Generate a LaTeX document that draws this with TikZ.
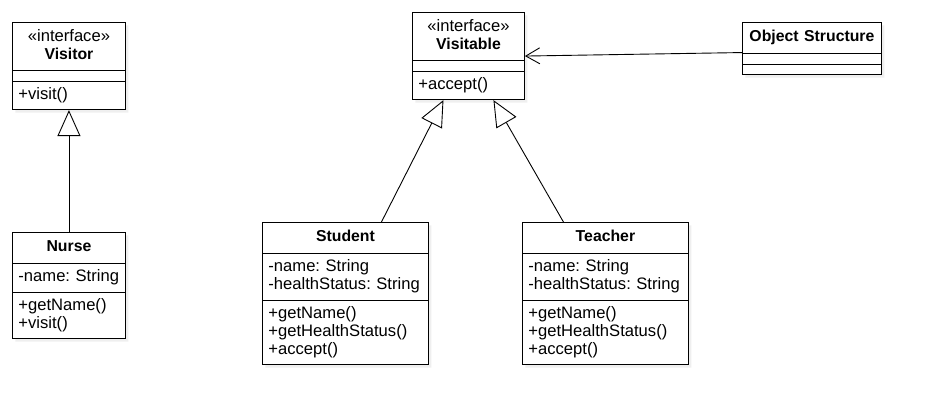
\documentclass[tikz,border=0pt]{standalone}
\usepackage{fontspec}
\setmainfont{Liberation Sans}
\usetikzlibrary{arrows.meta,shapes.multipart,shadows}
\tikzset{
  basic/.style   = {draw, line width=0.9pt, fill=white, rectangle split,
                    rectangle split parts=3, align=left, anchor=north west,
                    rectangle split empty part height=2.2pt,
                    rectangle split empty part depth=0pt,
                    inner xsep=6pt, inner ysep=4.75pt,
                    font=\fontsize{16.6}{18}\selectfont\frenchspacing,
                    drop shadow={shadow xshift=3pt, shadow yshift=-3pt,
                                 opacity=0.12}},
  class/.style   = {basic, text width=#1},
  generalization/.style = {draw, line width=0.9pt,
                    -{Triangle[open, fill=white, length=26pt, width=23pt]}},
  association/.style = {draw, line width=0.9pt,
                    -{Straight Barb[length=14pt, width=16pt]}}
}
% header lines, centred and a little taller than the other lines
\newcommand{\iface}[1]{\rule{0pt}{13.6pt}\hfill«interface»\hfill\null\par
  \rule[-6.4pt]{0pt}{6.4pt}\hfill
  {\fontsize{15.8}{18}\selectfont\bfseries #1}\hfill\null}
\newcommand{\cname}[1]{\rule[-6.9pt]{0pt}{21pt}\hfill
  {\fontsize{15.8}{18}\selectfont\bfseries #1}\hfill\null}

\begin{document}
\begin{tikzpicture}[x=1pt, y=-1pt]
\path[fill=white] (0,0) rectangle (930,416);
\useasboundingbox (0,0) rectangle (930,416);

% the two interfaces
\node[class=101pt] (visitor) at (12,22)
  {\iface{Visitor} \nodepart{two} \nodepart{three}\strut+visit()\strut};
\node[class=100pt] (visitable) at (412,12)
  {\iface{Visitable} \nodepart{two} \nodepart{three}\strut+accept()\strut};

\node[class=127pt] (objstruct) at (742,22)
  {\cname{Object Structure} \nodepart{two} \nodepart{three}};

% the concrete classes
\node[class=101pt] (nurse) at (12,232)
  {\cname{Nurse}
   \nodepart{two}\strut-name: String\strut
   \nodepart{three}\strut+getName()\\+visit()\strut};
\node[class=154pt] (student) at (262,222)
  {\cname{Student}
   \nodepart{two}\strut-name: String\\-healthStatus: String\strut
   \nodepart{three}\strut+getName()\\+getHealthStatus()\\+accept()\strut};
\node[class=154pt] (teacher) at (522,222)
  {\cname{Teacher}
   \nodepart{two}\strut-name: String\\-healthStatus: String\strut
   \nodepart{three}\strut+getName()\\+getHealthStatus()\\+accept()\strut};

% connectors
\draw[generalization] (nurse.north) -- (visitor.south);
\draw[generalization] ([xshift=36pt]student.north) -- ([xshift=-25pt]visitable.south);
\draw[generalization] ([xshift=-42pt]teacher.north) -- ([xshift=25pt]visitable.south);
\draw[association] ([yshift=-4pt]objstruct.west) -- (visitable.east);

\end{tikzpicture}
\end{document}
